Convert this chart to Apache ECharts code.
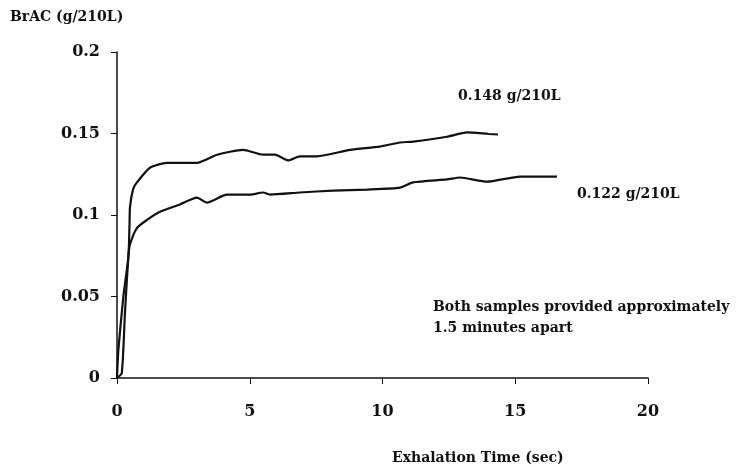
<!DOCTYPE html>
<html>
<head>
<meta charset="utf-8">
<script src="https://cdn.jsdelivr.net/npm/echarts@6/dist/echarts.min.js"></script>
<style>
html,body{margin:0;padding:0;background:#fff}
#chart{width:740px;height:467px}
</style>
</head>
<body>
<div id="chart"></div>
<script>
// first sample (0.148 g/210L)
var highTime = [0, 0.05, 0.24, 0.43, 0.47, 0.49, 0.61, 0.75, 1.24, 1.88, 3.01, 3.77, 4.75, 5.5, 5.95, 6.44, 6.89, 7.53, 8.78, 9.9, 10.66, 11.15, 12.43, 13.18, 14.0, 14.35]
var highBrac = [0, 0.017, 0.05, 0.0745, 0.093, 0.105, 0.116, 0.120, 0.129, 0.132, 0.132, 0.137, 0.140, 0.137, 0.137, 0.1335, 0.136, 0.136, 0.140, 0.142, 0.1445, 0.145, 0.148, 0.1507, 0.1497, 0.1494]
// second sample (0.122 g/210L)
var lowTime = [0, 0.18, 0.3, 0.43, 0.49, 0.75, 1.13, 1.62, 2.37, 3.01, 3.39, 4.14, 5.01, 5.5, 5.76, 6.89, 8.14, 9.42, 10.66, 11.15, 12.43, 12.92, 13.94, 15.18, 16.57]
var lowBrac = [0, 0.003, 0.04, 0.075, 0.082, 0.092, 0.097, 0.102, 0.1065, 0.1107, 0.1076, 0.1125, 0.1125, 0.1138, 0.1125, 0.1138, 0.115, 0.1156, 0.1168, 0.120, 0.1218, 0.123, 0.1205, 0.1236, 0.1236]

var xTicks = [0, 20, 5]   // min, max, interval
var yTicks = [0, 0.2, 0.05]

var font = 'DejaVu Serif'

var pairs = function(xs, ys){
    var out = []
    for(var i=0;i<xs.length;i++){
        out.push([xs[i], ys[i]])
    }
    return out
}

var txt = function(x, y, text, size){
    return {
        type: 'text', left: x, top: y,
        style: {text: text, font: 'bold ' + size + 'px "' + font + '"', fill: '#111'}
    }
}

var axisLine = {lineStyle: {color: '#111', width: 1.5}}
var labelStyle = {color: '#111', fontFamily: font, fontWeight: 'bold', fontSize: 16}

var chart = echarts.init(document.getElementById('chart'))
chart.setOption({
    backgroundColor: '#fff',
    animation: false,
    grid: {left: 117, right: 92, top: 52, bottom: 89},
    xAxis: {
        type: 'value',
        min: xTicks[0], max: xTicks[1], interval: xTicks[2],
        axisLine: axisLine,
        axisTick: {show: true, length: 6, lineStyle: {color: '#111'}},
        axisLabel: Object.assign({margin: 26}, labelStyle),
        splitLine: {show: false}
    },
    yAxis: {
        type: 'value',
        min: yTicks[0], max: yTicks[1], interval: yTicks[2],
        axisLine: {show: true, lineStyle: {color: '#111', width: 1.5}},
        axisTick: {show: true, length: 6, lineStyle: {color: '#111'}},
        axisLabel: Object.assign({margin: 17}, labelStyle),
        splitLine: {show: false}
    },
    series: [
        {
            type: 'line', data: pairs(highTime, highBrac),
            showSymbol: false, smooth: 0.2,
            lineStyle: {color: '#111', width: 2.2}
        },
        {
            type: 'line', data: pairs(lowTime, lowBrac),
            showSymbol: false, smooth: 0.2,
            lineStyle: {color: '#111', width: 2.2}
        }
    ],
    graphic: [
        txt(10, 10, 'BrAC (g/210L)', 14),
        txt(458, 89, '0.148 g/210L', 14),
        txt(577, 187, '0.122 g/210L', 14),
        txt(433, 300, 'Both samples provided approximately', 14),
        txt(433, 321, '1.5 minutes apart', 14),
        txt(392, 451, 'Exhalation Time (sec)', 14)
    ]
})
</script>
</body>
</html>
